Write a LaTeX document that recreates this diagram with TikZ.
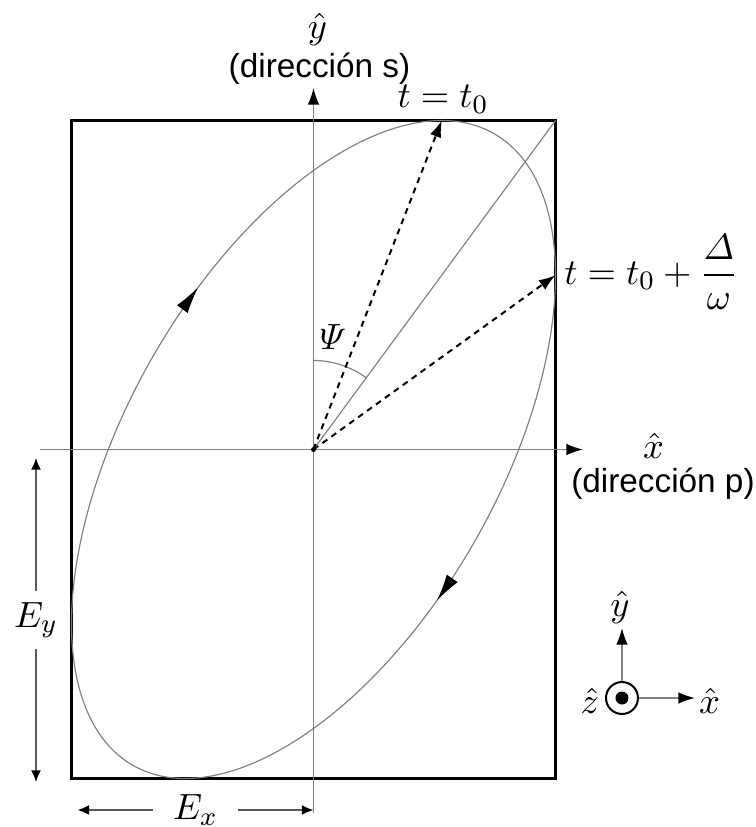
\documentclass[tikz,border=0pt]{standalone}
\usepackage{amsmath, amssymb}
\usepackage{fontspec}
\usepackage{tikz}
\usetikzlibrary{arrows.meta}

\newfontfamily\dirfont{Liberation Sans}

\begin{document}
\begin{tikzpicture}[x=0.3pt, y=0.3pt,
    axis/.style={draw=gray, line width=0.5pt, -{Latex[length=5pt, width=3.5pt, black]}},
    dim/.style={draw=gray!70!black, line width=0.5pt, {Latex[length=3.5pt, width=3pt, black]}-{Latex[length=3.5pt, width=3pt, black]}},
    vec/.style={black, line width=0.6pt, dash pattern=on 1.8pt off 1.5pt, -{Latex[length=5pt, width=3.5pt]}},
    faint/.style={gray, line width=0.35pt},
    flow/.style={gray, line width=0.35pt, -{Latex[length=8pt, width=4pt, black]}},
    lbl/.style={font=\fontsize{11}{13}\selectfont}]
    \useasboundingbox (-313.5,-377.5) rectangle (442.5,449.5);

    \coordinate (O) at (0,0);
    \coordinate (T) at ({242*cos(58)},329);   % t = t0
    \coordinate (R) at (242,{329*cos(58)});   % t = t0 + Delta/omega
    \coordinate (C) at (242,329);

    % frame
    \draw[line width=1pt] (-242,-329) rectangle (C);

    % axes
    \coordinate (xl) at (-273.5,0);
    \coordinate (xr) at (269.5,0);
    \coordinate (yb) at (0,-363.5);
    \coordinate (yt) at (0,361.5);
    \draw[axis] (xl) -- (xr);
    \draw[axis] (yb) -- (yt);
    \node[lbl] (yhat) at (4,420) {$\hat{y}$};
    \node[font=\dirfont] (ydir) at (6,381) {(dirección s)};
    \node[lbl] (xhat) at (340,4) {$\hat{x}$};
    \node[font=\dirfont] (xdir) at (349.5,-34) {(dirección p)};

    % ellipse
    \draw[faint] plot[domain=0:360, samples=121, smooth] ({242*cos(\x)}, {329*cos(\x-58)});
    \draw[flow] ({242*cos(121)}, {329*cos(121-58)}) -- ({242*cos(118.5)}, {329*cos(118.5-58)});
    \draw[flow] ({242*cos(-56.5)}, {329*cos(-56.5-58)}) -- ({242*cos(-59.3)}, {329*cos(-59.3-58)});

    % angle Psi
    \draw[faint] (O) -- (C);
    \draw[faint] (0,89) arc[start angle=90, end angle=53.67, radius=89];
    \node[lbl] (psi) at (19.5,112.5) {$\varPsi$};

    % field vectors
    \draw[vec] (O) -- (T);
    \draw[vec] (O) -- (R);
    \fill (O) circle (2.5);
    \node[lbl] (tzero) at (129.5,350) {$t = t_0$};
    \node[lbl, anchor=west] (tone) at (239,177.5) {$t = t_0 + \dfrac{\varDelta}{\omega}$};

    % amplitudes
    \coordinate (eyt) at (-277.5,-8.5);
    \coordinate (eyb) at (-277.5,-332.5);
    \draw[dim] (eyt) -- node[lbl, fill=white] (eylab) {$E_y$} (eyb);
    \coordinate (exl) at (-236,-360.5);
    \coordinate (exr) at (0,-360.5);
    \draw[dim] (exl) -- node[lbl, fill=white, inner xsep=6pt] (exlab) {$E_x$} (exr);

    % small triad
    \node[draw, circle, line width=0.6pt, inner sep=0pt, minimum size=9.6pt] (zc) at (308.5,-248.5) {};
    \fill (zc.center) circle (6.5);
    \coordinate (ty) at (308.5,-178.5);
    \coordinate (tx) at (381.5,-248.5);
    \draw[axis] (zc.north) -- (ty);
    \draw[axis] (zc.east) -- (tx);
    \node[lbl] (tyhat) at (306.5,-158) {$\hat{y}$};
    \node[lbl] (txhat) at (396,-251) {$\hat{x}$};
    \node[lbl] (tzhat) at (276.5,-251) {$\hat{z}$};
\end{tikzpicture}
\end{document}
